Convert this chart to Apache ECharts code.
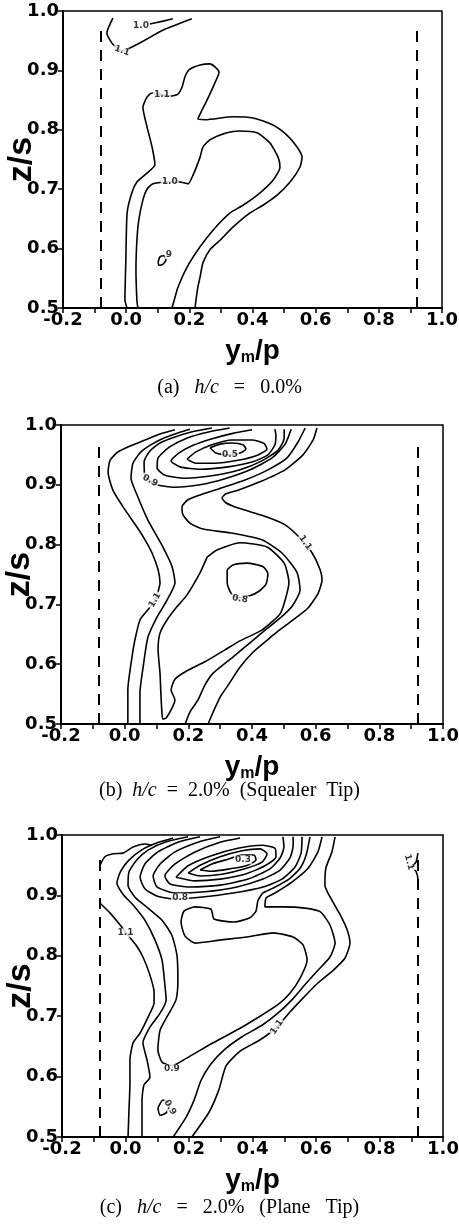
<!DOCTYPE html>
<html><head><meta charset="utf-8">
<script src="https://cdn.jsdelivr.net/npm/echarts@6/dist/echarts.min.js"></script>
<style>html,body{margin:0;padding:0;background:#fff}#c{width:459px;height:1231px}</style>
</head><body><div id="c"></div>
<script>
// ---------- axes ----------
const X_MIN = -0.2, X_MAX = 1.0, X_STEP = 0.2;
const Y_MIN = 0.5, Y_MAX = 1.0, Y_STEP = 0.1;
const PITCH_LINES = [-0.08, 0.92];
const PITCH_TOP = 0.97;
const CAPTIONS = ['(a)   {i|h/c}   =   0.0%', '(b)  {i|h/c}  =  2.0%  (Squealer  Tip)', '(c)   {i|h/c}   =   2.0%   (Plane   Tip)'];

// ---------- panel (a) h/c = 0.0% ----------
const a_c11_top = [[-0.042,0.988],[-0.061,0.963],[-0.045,0.946],[-0.029,0.938],[-0.013,0.933],[0.006,0.936],[0.053,0.949],[0.117,0.968],[0.208,0.987]];
const a_c10_top = [[0.075,0.978],[0.117,0.983],[0.148,0.987]];
const a_c11 = [[0.003,0.500],[-0.004,0.513],[-0.001,0.581],[0.003,0.660],[0.018,0.694],[0.034,0.712],[0.066,0.727],[0.091,0.741],[0.082,0.771],[0.066,0.805],[0.053,0.838],[0.066,0.855],[0.082,0.862],[0.113,0.859],[0.145,0.857],[0.164,0.860],[0.177,0.872],[0.186,0.889],[0.199,0.901],[0.234,0.909],[0.265,0.911],[0.281,0.906],[0.294,0.897],[0.281,0.879],[0.256,0.850],[0.240,0.833],[0.227,0.818],[0.250,0.817],[0.338,0.822],[0.402,0.820],[0.465,0.808],[0.509,0.791],[0.541,0.771],[0.557,0.754],[0.550,0.737],[0.519,0.712],[0.478,0.690],[0.433,0.673],[0.392,0.660],[0.338,0.636],[0.297,0.614],[0.265,0.598],[0.243,0.576],[0.234,0.552],[0.227,0.535],[0.221,0.513],[0.218,0.500]];
const a_c10 = [[0.037,0.500],[0.034,0.513],[0.031,0.564],[0.034,0.614],[0.040,0.648],[0.053,0.682],[0.066,0.700],[0.085,0.709],[0.138,0.712],[0.170,0.712],[0.196,0.709],[0.212,0.724],[0.234,0.754],[0.243,0.771],[0.265,0.783],[0.319,0.795],[0.360,0.798],[0.414,0.795],[0.455,0.778],[0.481,0.754],[0.487,0.737],[0.465,0.715],[0.424,0.694],[0.370,0.673],[0.329,0.660],[0.275,0.631],[0.234,0.603],[0.193,0.569],[0.164,0.535],[0.152,0.513],[0.145,0.500]];
const a_c09 = [[0.101,0.577],[0.107,0.586],[0.120,0.588],[0.126,0.581],[0.117,0.574],[0.104,0.572],[0.101,0.577]];
const a_labels = [[-0.013,0.933,'1.1'],[0.047,0.976,'1.0'],[0.113,0.859,'1.1'],[0.138,0.712,'1.0'],[0.135,0.590,'9']];
const a_label_rot = [-20,0,0,0,0];

// ---------- panel (b) squealer tip ----------
const b_c11_left = [[0.010,0.500],[0.010,0.557],[0.023,0.612],[0.032,0.640],[0.048,0.674],[0.073,0.691],[0.095,0.707],[0.111,0.736],[0.105,0.758],[0.086,0.786],[0.064,0.808],[0.039,0.829],[-0.005,0.863],[-0.037,0.891],[-0.052,0.921],[-0.046,0.941],[-0.021,0.955],[0.017,0.965],[0.064,0.975],[0.111,0.985],[0.158,0.992]];
const b_c10_left = [[0.048,0.500],[0.048,0.552],[0.058,0.595],[0.073,0.645],[0.102,0.679],[0.133,0.707],[0.158,0.736],[0.149,0.763],[0.117,0.799],[0.073,0.841],[0.039,0.883],[0.020,0.911],[0.026,0.936],[0.051,0.955],[0.086,0.968],[0.127,0.979],[0.174,0.988],[0.205,0.993]];
const b_c09_low = [[0.259,0.779],[0.237,0.753],[0.196,0.716],[0.164,0.696],[0.133,0.674],[0.111,0.652],[0.105,0.624],[0.111,0.585],[0.114,0.548],[0.117,0.520],[0.120,0.508],[0.130,0.510],[0.149,0.527],[0.158,0.540],[0.146,0.557],[0.158,0.575],[0.196,0.589],[0.252,0.604],[0.315,0.624],[0.362,0.639],[0.431,0.657],[0.488,0.684],[0.504,0.707],[0.516,0.736],[0.501,0.769],[0.447,0.796],[0.362,0.803],[0.290,0.791],[0.259,0.779]];
const b_c08_low = [[0.322,0.758],[0.340,0.766],[0.384,0.769],[0.435,0.763],[0.450,0.751],[0.444,0.734],[0.422,0.722],[0.391,0.714],[0.356,0.711],[0.334,0.719],[0.322,0.736],[0.322,0.758]];
const b_c10_right = [[0.567,0.995],[0.545,0.972],[0.510,0.945],[0.450,0.925],[0.378,0.908],[0.306,0.895],[0.237,0.883],[0.199,0.875],[0.180,0.863],[0.183,0.850],[0.205,0.836],[0.246,0.826],[0.340,0.819],[0.431,0.808],[0.494,0.786],[0.541,0.754],[0.551,0.724],[0.526,0.697],[0.488,0.677],[0.441,0.657],[0.403,0.640],[0.340,0.612],[0.278,0.585],[0.252,0.565],[0.230,0.540],[0.205,0.520],[0.190,0.500]];
const b_c11_right = [[0.604,0.995],[0.592,0.975],[0.560,0.950],[0.504,0.925],[0.425,0.905],[0.356,0.891],[0.318,0.885],[0.306,0.878],[0.318,0.870],[0.347,0.863],[0.394,0.855],[0.447,0.846],[0.504,0.833],[0.551,0.811],[0.589,0.786],[0.614,0.758],[0.620,0.741],[0.608,0.719],[0.576,0.694],[0.529,0.674],[0.479,0.654],[0.447,0.640],[0.403,0.620],[0.362,0.595],[0.325,0.565],[0.300,0.545],[0.278,0.520],[0.262,0.500]];
const b_c05 = [[0.268,0.962],[0.300,0.968],[0.337,0.970],[0.372,0.967],[0.381,0.960],[0.362,0.953],[0.325,0.950],[0.287,0.953],[0.268,0.962]];
const b_c06 = [[0.196,0.943],[0.224,0.955],[0.274,0.967],[0.337,0.975],[0.400,0.975],[0.438,0.969],[0.447,0.960],[0.419,0.950],[0.356,0.941],[0.281,0.936],[0.224,0.936],[0.196,0.943]];
const b_c07 = [[0.400,0.992],[0.340,0.986],[0.275,0.977],[0.215,0.966],[0.170,0.953],[0.146,0.940],[0.174,0.930],[0.237,0.926],[0.325,0.930],[0.400,0.938],[0.450,0.950],[0.472,0.967],[0.475,0.983],[0.472,0.993]];
const b_c08_top = [[0.330,0.995],[0.260,0.988],[0.195,0.978],[0.140,0.963],[0.105,0.945],[0.102,0.928],[0.127,0.916],[0.190,0.911],[0.274,0.915],[0.362,0.925],[0.431,0.940],[0.482,0.958],[0.501,0.978],[0.501,0.993]];
const b_c09_top = [[0.274,0.995],[0.215,0.989],[0.158,0.980],[0.111,0.970],[0.080,0.957],[0.061,0.938],[0.064,0.915],[0.095,0.901],[0.158,0.896],[0.237,0.900],[0.315,0.910],[0.394,0.925],[0.463,0.945],[0.504,0.968],[0.523,0.993]];
const b_labels = [[0.095,0.707,'1.1'],[0.567,0.803,'1.1'],[0.080,0.907,'0.9'],[0.331,0.951,'0.5'],[0.362,0.709,'0.8']];
const b_label_rot = [60,-55,-30,0,-10];

// ---------- panel (c) plane tip ----------
const c_c11_tl = [[-0.080,0.950],[-0.065,0.964],[-0.039,0.969],[-0.008,0.970],[0.024,0.980],[0.061,0.985],[0.083,0.983]];
const c_c11_left = [[-0.080,0.887],[-0.049,0.871],[-0.017,0.851],[0.008,0.834],[0.033,0.818],[0.055,0.798],[0.077,0.768],[0.090,0.740],[0.090,0.722],[0.077,0.705],[0.046,0.672],[0.024,0.656],[0.014,0.627],[0.014,0.589],[0.011,0.545],[0.008,0.500]];
const c_c10_left = [[0.150,0.995],[0.100,0.987],[0.050,0.975],[0.010,0.958],[-0.015,0.940],[-0.027,0.921],[-0.008,0.902],[0.024,0.884],[0.061,0.859],[0.093,0.826],[0.115,0.793],[0.124,0.752],[0.128,0.727],[0.109,0.705],[0.077,0.682],[0.055,0.656],[0.068,0.627],[0.077,0.599],[0.058,0.586],[0.052,0.561],[0.052,0.500]];
const c_c09 = [[0.197,0.997],[0.124,0.988],[0.071,0.975],[0.036,0.959],[0.011,0.939],[0.008,0.917],[0.030,0.897],[0.071,0.879],[0.115,0.859],[0.146,0.834],[0.162,0.801],[0.165,0.760],[0.159,0.727],[0.134,0.702],[0.109,0.677],[0.102,0.644],[0.115,0.624],[0.146,0.618],[0.194,0.631],[0.276,0.656],[0.361,0.680],[0.430,0.702],[0.480,0.719],[0.518,0.738],[0.550,0.763],[0.572,0.793],[0.559,0.818],[0.528,0.831],[0.465,0.838],[0.383,0.831],[0.298,0.826],[0.219,0.821],[0.187,0.833],[0.175,0.856],[0.184,0.874],[0.219,0.881],[0.269,0.877],[0.279,0.861],[0.342,0.856],[0.392,0.863],[0.411,0.874],[0.417,0.891],[0.433,0.904],[0.465,0.912],[0.515,0.927],[0.550,0.945],[0.569,0.967],[0.581,0.997]];
const c_c10_right = [[0.619,0.997],[0.606,0.972],[0.575,0.945],[0.524,0.922],[0.471,0.904],[0.443,0.896],[0.439,0.881],[0.496,0.881],[0.565,0.879],[0.613,0.873],[0.644,0.851],[0.660,0.821],[0.644,0.798],[0.606,0.776],[0.565,0.752],[0.524,0.727],[0.480,0.705],[0.430,0.685],[0.367,0.666],[0.310,0.644],[0.269,0.621],[0.238,0.594],[0.216,0.561],[0.191,0.533],[0.150,0.500]];
const c_c11_right = [[0.660,0.997],[0.650,0.972],[0.631,0.945],[0.628,0.917],[0.650,0.892],[0.676,0.868],[0.698,0.843],[0.707,0.821],[0.691,0.796],[0.654,0.776],[0.606,0.755],[0.559,0.730],[0.518,0.707],[0.477,0.682],[0.424,0.661],[0.361,0.642],[0.317,0.618],[0.294,0.578],[0.263,0.541],[0.209,0.500]];
const c_c03 = [[0.235,0.942],[0.272,0.952],[0.323,0.960],[0.367,0.967],[0.405,0.967],[0.411,0.959],[0.380,0.949],[0.329,0.944],[0.272,0.940],[0.235,0.942]];
const c_c04 = [[0.197,0.937],[0.235,0.950],[0.298,0.964],[0.367,0.974],[0.424,0.977],[0.446,0.969],[0.430,0.955],[0.376,0.944],[0.304,0.935],[0.235,0.932],[0.197,0.937]];
const c_c05 = [[0.159,0.930],[0.197,0.949],[0.266,0.965],[0.354,0.978],[0.430,0.983],[0.471,0.978],[0.474,0.964],[0.439,0.949],[0.376,0.935],[0.298,0.927],[0.219,0.924],[0.159,0.930]];
const c_c06 = [[0.361,0.995],[0.298,0.988],[0.219,0.972],[0.156,0.952],[0.124,0.932],[0.140,0.919],[0.203,0.914],[0.298,0.917],[0.386,0.927],[0.455,0.944],[0.487,0.962],[0.499,0.980],[0.496,0.997]];
const c_c07 = [[0.298,0.997],[0.228,0.988],[0.156,0.972],[0.109,0.952],[0.087,0.932],[0.099,0.914],[0.156,0.904],[0.250,0.906],[0.351,0.914],[0.433,0.927],[0.487,0.942],[0.518,0.962],[0.528,0.982],[0.528,0.997]];
const c_c08 = [[0.235,0.997],[0.165,0.988],[0.102,0.972],[0.061,0.952],[0.046,0.930],[0.061,0.911],[0.099,0.899],[0.156,0.894],[0.235,0.897],[0.339,0.904],[0.433,0.914],[0.493,0.927],[0.534,0.947],[0.553,0.970],[0.556,0.997]];
const c_c09_small = [[0.102,0.548],[0.118,0.561],[0.140,0.553],[0.128,0.540],[0.109,0.536],[0.102,0.548]];
const c_c11_fr = [[0.921,0.970],[0.915,0.955],[0.902,0.947],[0.915,0.940],[0.921,0.925],[0.921,0.912]];
const c_labels = [[0.000,0.838,'1.1'],[0.172,0.896,'0.8'],[0.370,0.959,'0.3'],[0.146,0.613,'0.9'],[0.477,0.682,'1.1'],[0.140,0.549,'0.9'],[0.893,0.955,'1.1']];
const c_label_rot = [0,0,0,0,55,-60,-75];

// ---------- build ----------
const GRIDS = [
  {left:63, top:11, width:379, height:297},
  {left:61, top:425, width:382, height:299},
  {left:62, top:835, width:381, height:302}
];
const CAPTION_TOPS = [373, 776, 1193];
const PANELS = [
  {lines:[a_c11_top,a_c10_top,a_c11,a_c10,a_c09], labels:a_labels, rot:a_label_rot},
  {lines:[b_c11_left,b_c10_left,b_c09_low,b_c08_low,b_c10_right,b_c11_right,b_c05,b_c06,b_c07,b_c08_top,b_c09_top], labels:b_labels, rot:b_label_rot},
  {lines:[c_c11_tl,c_c11_left,c_c10_left,c_c09,c_c10_right,c_c11_right,c_c03,c_c04,c_c05,c_c06,c_c07,c_c08,c_c09_small,c_c11_fr], labels:c_labels, rot:c_label_rot}
];
const FONT = 'DejaVu Sans';
const NAME_FONT = 'Liberation Sans';
const fmt = v => v.toFixed(1);

const grid = GRIDS.map(g => Object.assign({show:true, borderColor:'#000', borderWidth:1.5, backgroundColor:'#fff', containLabel:false, outerBoundsMode:'none'}, g));
const xAxis = GRIDS.map((g,i) => ({
  type:'value', gridIndex:i, min:X_MIN, max:X_MAX, interval:X_STEP,
  axisLine:{show:true, onZero:false, lineStyle:{color:'#000', width:2}},
  axisTick:{show:true, length:5, lineStyle:{color:'#000', width:1.5}},
  minorTick:{show:true, splitNumber:2, length:5, lineStyle:{color:'#000', width:1.5}},
  splitLine:{show:false},
  axisLabel:{formatter:fmt, color:'#000', fontFamily:FONT, fontWeight:'bold', fontSize:18, margin:3},
  name:'y{s|m}/p', nameLocation:'middle', nameGap:28, nameMoveOverlap:false,
  nameTextStyle:{color:'#000', fontFamily:NAME_FONT, fontWeight:'bold', fontSize:28,
    rich:{s:{fontFamily:NAME_FONT, fontWeight:'bold', fontSize:16, color:'#000', padding:[14,0,0,0]}}}
}));
const yAxis = GRIDS.map((g,i) => ({
  type:'value', gridIndex:i, min:Y_MIN, max:Y_MAX, interval:Y_STEP,
  axisLine:{show:true, onZero:false, lineStyle:{color:'#000', width:2}},
  axisTick:{show:true, length:5, lineStyle:{color:'#000', width:1.5}},
  splitLine:{show:false},
  axisLabel:{formatter:fmt, color:'#000', fontFamily:FONT, fontWeight:'bold', fontSize:18, margin:4},
  name:'z/s', nameLocation:'middle', nameRotate:90, nameGap:24, nameMoveOverlap:false,
  nameTextStyle:{color:'#000', fontFamily:NAME_FONT, fontWeight:'bold', fontSize:34}
}));

const series = [];
PANELS.forEach((p,i) => {
  p.lines.forEach(d => series.push({
    type:'line', xAxisIndex:i, yAxisIndex:i, data:d, symbol:'none', showSymbol:false,
    smooth:0.2, silent:true, animation:false, z:2,
    lineStyle:{color:'#000', width:1.6}
  }));
  series.push({
    type:'line', xAxisIndex:i, yAxisIndex:i, symbol:'none', silent:true, animation:false, z:1,
    data:[], markLine:{silent:true, symbol:'none', animation:false, label:{show:false},
      lineStyle:{color:'#000', width:2, type:[11,8]},
      data:PITCH_LINES.map(x => [{coord:[x,Y_MIN]},{coord:[x,PITCH_TOP]}])}
  });
  series.push({
    type:'scatter', xAxisIndex:i, yAxisIndex:i, symbolSize:0, silent:true, animation:false, z:5,
    data:p.labels.map((l,k) => ({value:[l[0],l[1]], name:l[2], label:{rotate:p.rot[k]}})),
    label:{show:true, position:'inside', formatter:'{b}', color:'#000', fontFamily:FONT, fontWeight:'bold',
      fontSize:9, backgroundColor:'#fff', padding:[0,1]}
  });
});

const title = CAPTIONS.map((t,i) => ({
  text:t, left:'center', top:CAPTION_TOPS[i],
  textStyle:{color:'#000', fontFamily:'Liberation Serif', fontWeight:'normal', fontSize:20,
    rich:{i:{fontFamily:'Liberation Serif', fontStyle:'italic', fontSize:20, color:'#000'}}}
}));

const chart = echarts.init(document.getElementById('c'), null, {renderer:'canvas'});
chart.setOption({animation:false, backgroundColor:'#fff', title, grid, xAxis, yAxis, series});
</script></body></html>
